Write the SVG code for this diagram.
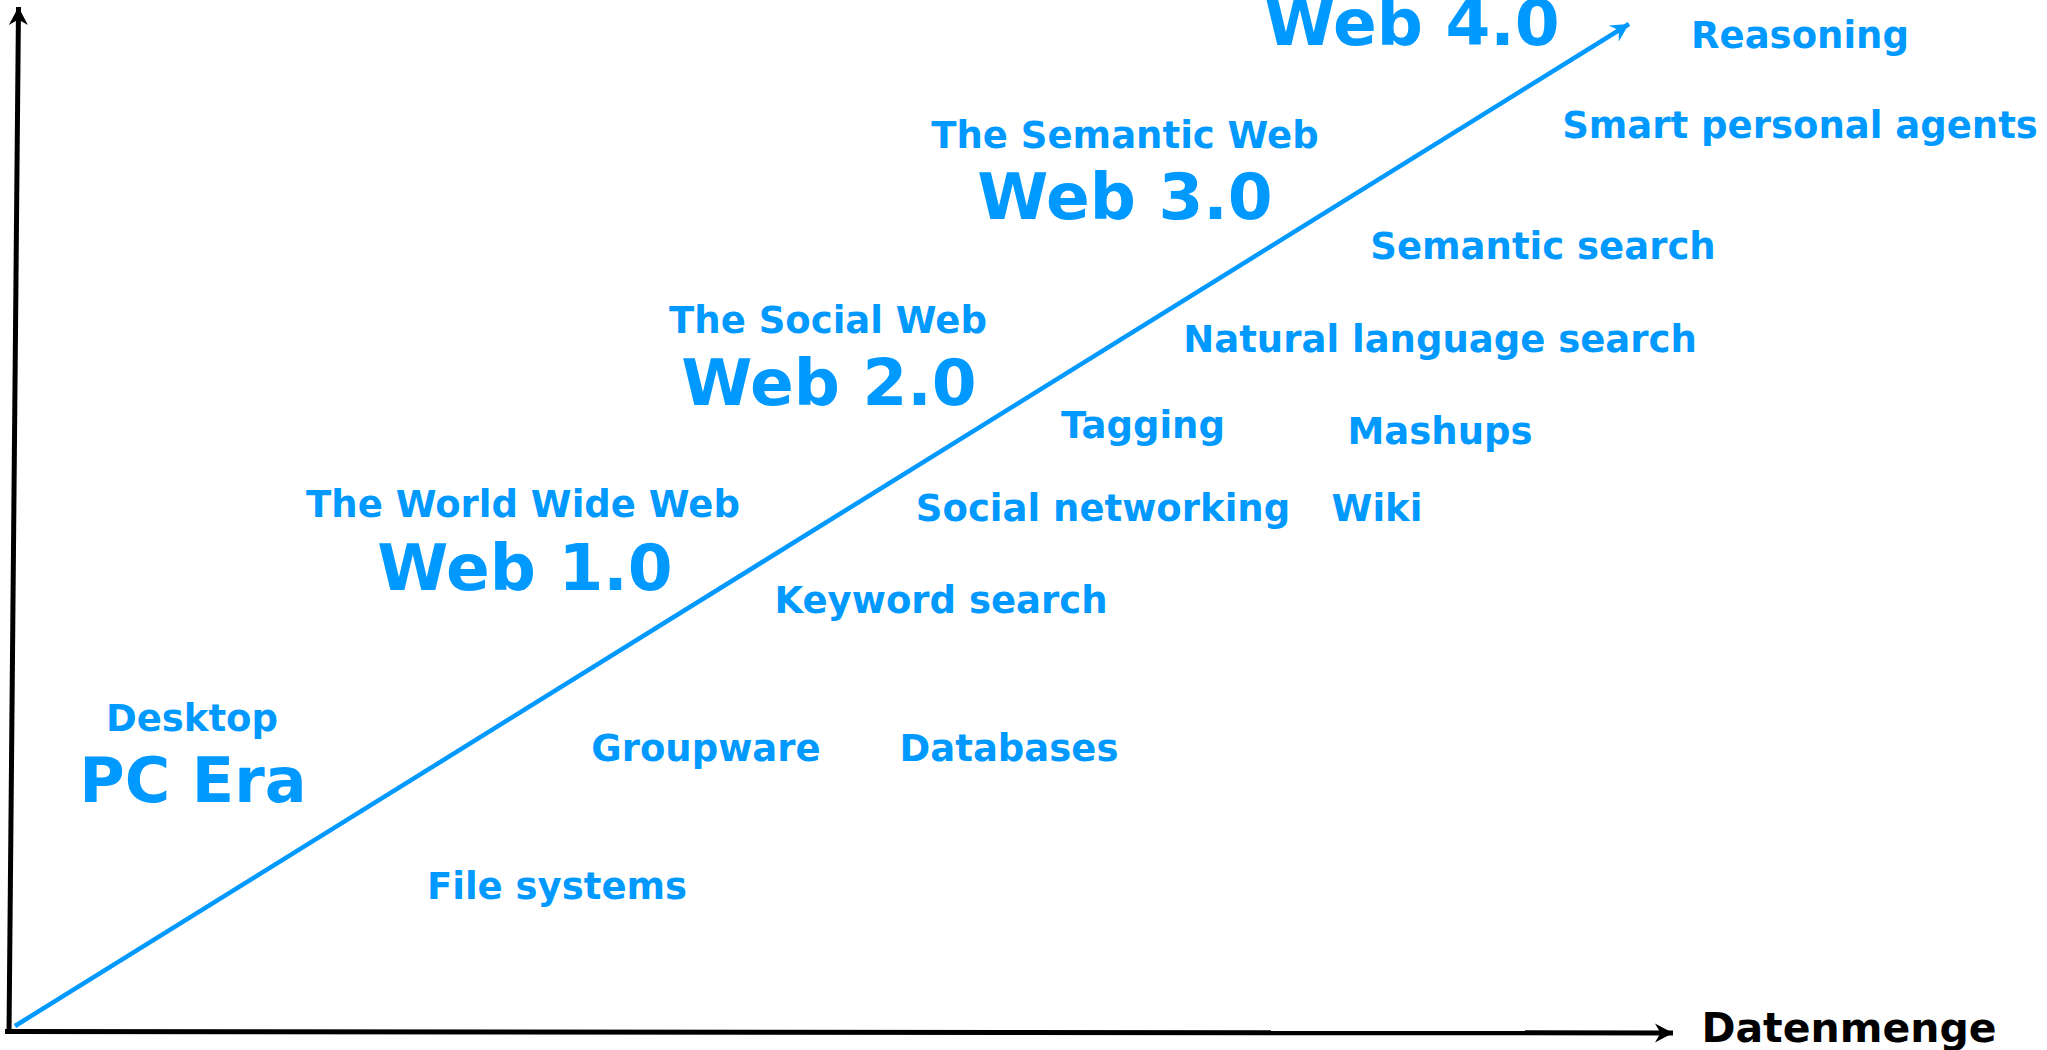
<svg xmlns="http://www.w3.org/2000/svg" width="2047" height="1050" viewBox="0 0 2047 1050">
<style>
  text { font-family: "DejaVu Sans", Verdana, sans-serif; font-weight: bold; text-anchor: middle; }
  .lbl { fill: #0099ff; font-size: 37px; }
  .big { fill: #0099ff; font-size: 64.5px; }
  .axis { fill: #000000; font-size: 41px; }
  .ax { stroke: #000000; stroke-width: 5; fill: none; }
  .trend { stroke: #0099ff; stroke-width: 4.5; fill: none; }
</style>
<defs>
  <marker id="ahBlack" viewBox="-20 -11 22 22" markerWidth="22" markerHeight="22" refX="0" refY="0" orient="auto" markerUnits="userSpaceOnUse">
    <path d="M0,0 L-18,-9.5 L-12.5,0 L-18,9.5 Z" fill="#000000"/>
  </marker>
  <marker id="ahBlue" viewBox="-20 -11 22 22" markerWidth="22" markerHeight="22" refX="0" refY="0" orient="auto" markerUnits="userSpaceOnUse">
    <path d="M0,0 L-18,-9.5 L-12,0 L-18,9.5 Z" fill="#0099ff"/>
  </marker>
</defs>
<rect width="2047" height="1050" fill="#ffffff"/>
<g id="connectors">
  <line class="ax" x1="9" y1="1034" x2="18.5" y2="7" marker-end="url(#ahBlack)"/>
  <line class="ax" x1="5" y1="1031.5" x2="1673" y2="1033" marker-end="url(#ahBlack)"/>
  <line class="trend" x1="15" y1="1026" x2="1629" y2="24" marker-end="url(#ahBlue)"/>
</g>
<g id="web40"><text class="big" x="1412" y="45">Web 4.0</text></g>
<g id="reasoning"><text class="lbl" x="1800" y="48">Reasoning</text></g>
<g id="smart-agents"><text class="lbl" x="1800" y="138">Smart personal agents</text></g>
<g id="web30">
  <text class="lbl" x="1125" y="148">The Semantic Web</text>
  <text class="big" x="1125" y="219">Web 3.0</text>
</g>
<g id="semantic-search"><text class="lbl" x="1543" y="259">Semantic search</text></g>
<g id="nl-search"><text class="lbl" x="1440" y="352">Natural language search</text></g>
<g id="web20">
  <text class="lbl" x="828" y="333">The Social Web</text>
  <text class="big" x="829" y="405">Web 2.0</text>
</g>
<g id="tagging"><text class="lbl" x="1143" y="438">Tagging</text></g>
<g id="mashups"><text class="lbl" x="1440" y="444">Mashups</text></g>
<g id="social-networking"><text class="lbl" x="1103" y="521">Social networking</text></g>
<g id="wiki"><text class="lbl" x="1377" y="521">Wiki</text></g>
<g id="web10">
  <text class="lbl" x="523" y="517">The World Wide Web</text>
  <text class="big" x="525" y="590">Web 1.0</text>
</g>
<g id="keyword-search"><text class="lbl" x="941" y="613">Keyword search</text></g>
<g id="pc-era">
  <text class="lbl" x="192" y="731">Desktop</text>
  <text class="big" x="193" y="802" style="font-size:62px">PC Era</text>
</g>
<g id="groupware"><text class="lbl" x="706" y="761">Groupware</text></g>
<g id="databases"><text class="lbl" x="1009" y="761">Databases</text></g>
<g id="file-systems"><text class="lbl" x="557" y="899">File systems</text></g>
<g id="datenmenge"><text class="axis" x="1849" y="1042">Datenmenge</text></g>
</svg>
